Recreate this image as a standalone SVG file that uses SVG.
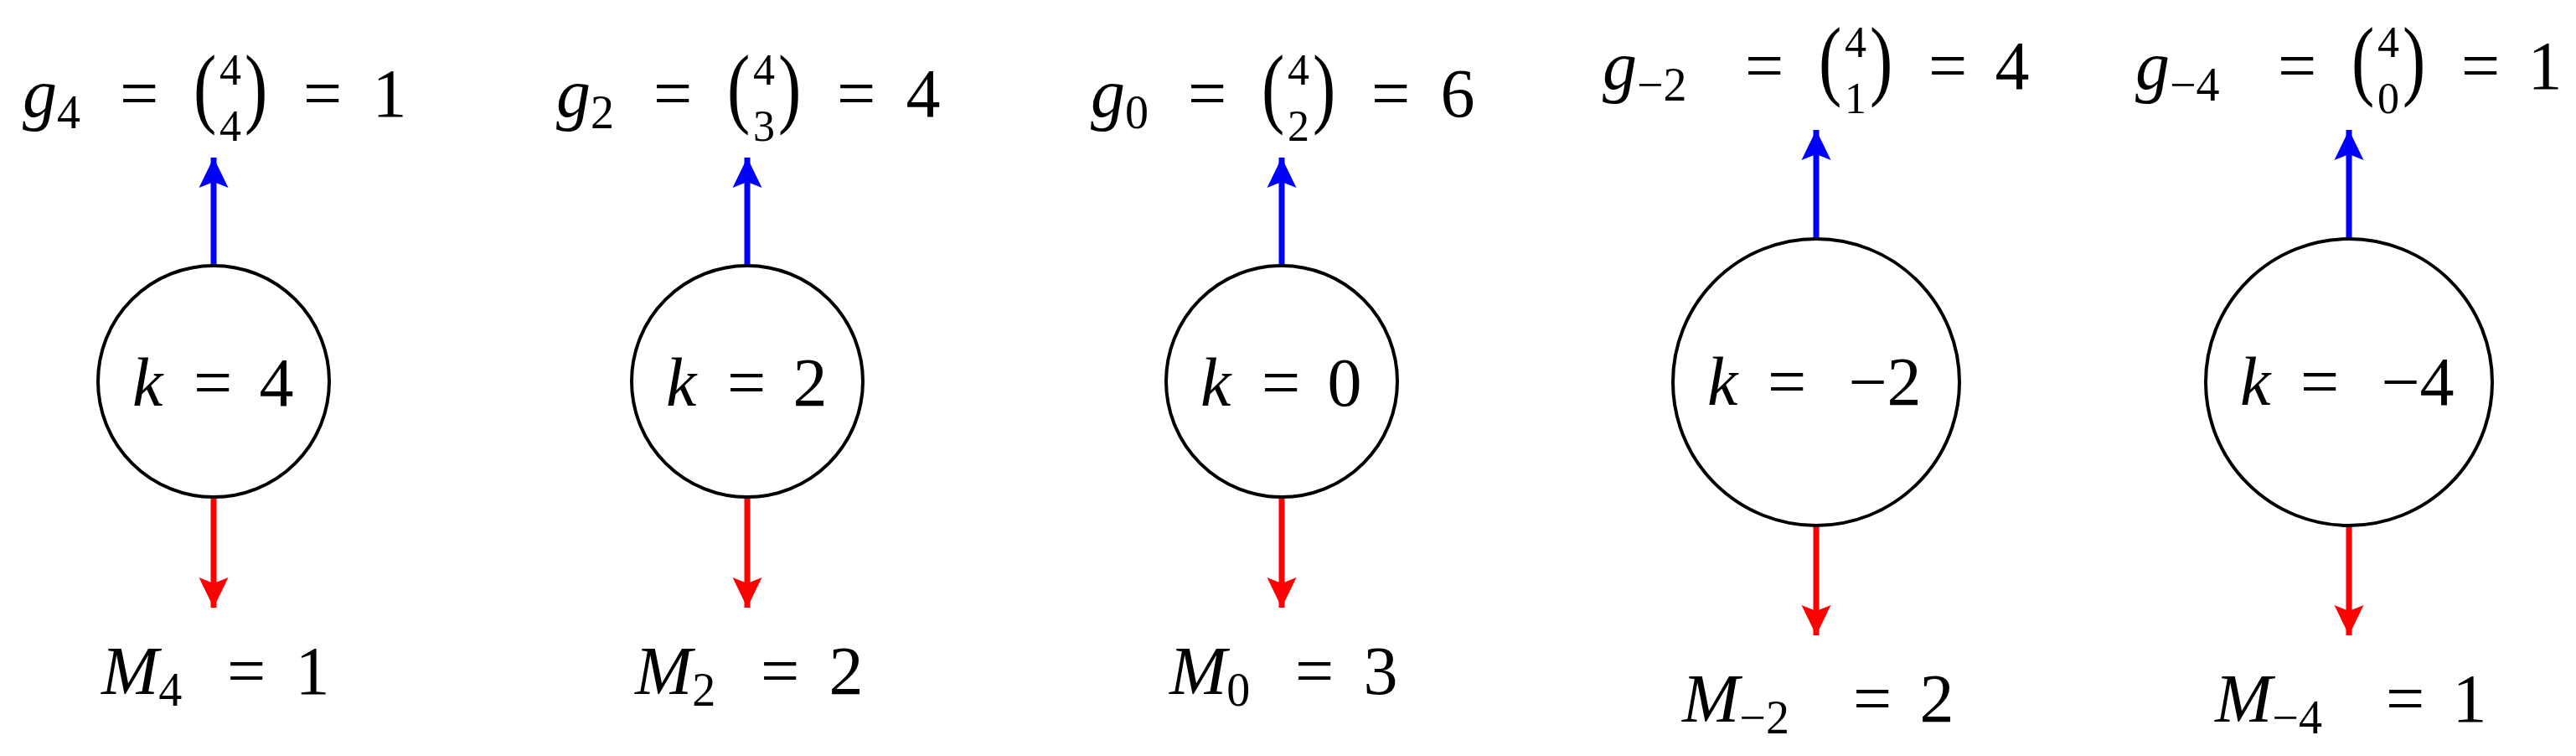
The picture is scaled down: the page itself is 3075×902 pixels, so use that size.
<svg xmlns="http://www.w3.org/2000/svg" width="3075" height="902" viewBox="0 0 3075 902">
<style>
text{font-family:"Liberation Serif","DejaVu Serif",serif;fill:#000;font-size:82px}
.i{font-style:italic}
.s{font-size:56px}
.d{font-size:52px}
.m{text-anchor:middle}
circle{fill:#fff;stroke:#000;stroke-width:4}
.b{stroke:#0000ff;stroke-width:7;fill:none}
.r{stroke:#ff0000;stroke-width:7;fill:none}
</style>
<defs>
<marker id="ab" markerUnits="userSpaceOnUse" markerWidth="40" markerHeight="40" viewBox="0 -20 40 40" refX="36" refY="0" orient="auto"><path d="M0,-17.5 L36,0 L0,17.5 L7,0 z" fill="#0000ff"/></marker>
<marker id="ar" markerUnits="userSpaceOnUse" markerWidth="40" markerHeight="40" viewBox="0 -20 40 40" refX="36" refY="0" orient="auto"><path d="M0,-17.5 L36,0 L0,17.5 L7,0 z" fill="#ff0000"/></marker>
</defs>
<g id="connectors">
<line class="b" x1="255" y1="317" x2="255" y2="188" marker-end="url(#ab)"/>
<line class="r" x1="255" y1="593" x2="255" y2="725" marker-end="url(#ar)"/>
<line class="b" x1="892" y1="317" x2="892" y2="188" marker-end="url(#ab)"/>
<line class="r" x1="892" y1="593" x2="892" y2="725" marker-end="url(#ar)"/>
<line class="b" x1="1530" y1="317" x2="1530" y2="188" marker-end="url(#ab)"/>
<line class="r" x1="1530" y1="593" x2="1530" y2="725" marker-end="url(#ar)"/>
<line class="b" x1="2168" y1="286" x2="2168" y2="155" marker-end="url(#ab)"/>
<line class="r" x1="2168" y1="627" x2="2168" y2="758" marker-end="url(#ar)"/>
<line class="b" x1="2804" y1="286" x2="2804" y2="155" marker-end="url(#ab)"/>
<line class="r" x1="2804" y1="627" x2="2804" y2="758" marker-end="url(#ar)"/>
</g>
<g id="n4" transform="translate(255,0)">
<circle cx="0" cy="455" r="138"/>
<text class="i" x="-97" y="484">k</text><text class="m" x="-1" y="484">=</text><text class="m" x="75" y="484">4</text>
<text x="-228" y="139"><tspan class="i">g</tspan><tspan class="s" dy="14">4</tspan></text>
<text class="m" x="-89" y="139">=</text>
<text x="-24" y="139" transform="translate(-24,139) scale(1,1.3) translate(24,-139)">(</text>
<text class="m d" x="20" y="101">4</text><text class="m d" x="20" y="168">4</text>
<text x="37" y="139" transform="translate(37,139) scale(1,1.3) translate(-37,-139)">)</text>
<text class="m" x="130" y="139">=</text>
<text class="m" x="210" y="139">1</text>
<text x="-134" y="828"><tspan class="i">M</tspan><tspan class="s" dy="14">4</tspan></text>
<text class="m" x="39" y="828">=</text>
<text class="m" x="118" y="828">1</text>
</g>
<g id="n2" transform="translate(892,0)">
<circle cx="0" cy="455" r="138"/>
<text class="i" x="-97" y="484">k</text><text class="m" x="-1" y="484">=</text><text class="m" x="75" y="484">2</text>
<text x="-228" y="139"><tspan class="i">g</tspan><tspan class="s" dy="14">2</tspan></text>
<text class="m" x="-89" y="139">=</text>
<text x="-24" y="139" transform="translate(-24,139) scale(1,1.3) translate(24,-139)">(</text>
<text class="m d" x="20" y="101">4</text><text class="m d" x="20" y="168">3</text>
<text x="37" y="139" transform="translate(37,139) scale(1,1.3) translate(-37,-139)">)</text>
<text class="m" x="130" y="139">=</text>
<text class="m" x="210" y="139">4</text>
<text x="-134" y="828"><tspan class="i">M</tspan><tspan class="s" dy="14">2</tspan></text>
<text class="m" x="39" y="828">=</text>
<text class="m" x="118" y="828">2</text>
</g>
<g id="n0" transform="translate(1530,0)">
<circle cx="0" cy="455" r="138"/>
<text class="i" x="-97" y="484">k</text><text class="m" x="-1" y="484">=</text><text class="m" x="75" y="484">0</text>
<text x="-228" y="139"><tspan class="i">g</tspan><tspan class="s" dy="14">0</tspan></text>
<text class="m" x="-89" y="139">=</text>
<text x="-24" y="139" transform="translate(-24,139) scale(1,1.3) translate(24,-139)">(</text>
<text class="m d" x="20" y="101">4</text><text class="m d" x="20" y="168">2</text>
<text x="37" y="139" transform="translate(37,139) scale(1,1.3) translate(-37,-139)">)</text>
<text class="m" x="130" y="139">=</text>
<text class="m" x="210" y="139">6</text>
<text x="-134" y="828"><tspan class="i">M</tspan><tspan class="s" dy="14">0</tspan></text>
<text class="m" x="39" y="828">=</text>
<text class="m" x="118" y="828">3</text>
</g>
<g id="nm2" transform="translate(2168,0)">
<circle cx="0" cy="456" r="171"/>
<text class="i" x="-130" y="483">k</text><text class="m" x="-35" y="483">=</text><text class="m" x="82" y="483">−2</text>
<text x="-255" y="106"><tspan class="i">g</tspan><tspan class="s" dy="14">−2</tspan></text>
<text class="m" x="-62" y="106">=</text>
<text x="3" y="106" transform="translate(3,106) scale(1,1.3) translate(-3,-106)">(</text>
<text class="m d" x="47" y="68">4</text><text class="m d" x="47" y="135">1</text>
<text x="64" y="106" transform="translate(64,106) scale(1,1.3) translate(-64,-106)">)</text>
<text class="m" x="157" y="106">=</text>
<text class="m" x="234" y="106">4</text>
<text x="-160" y="861"><tspan class="i">M</tspan><tspan class="s" dy="14">−2</tspan></text>
<text class="m" x="67" y="861">=</text>
<text class="m" x="144" y="861">2</text>
</g>
<g id="nm4" transform="translate(2804,0)">
<circle cx="0" cy="456" r="171"/>
<text class="i" x="-130" y="483">k</text><text class="m" x="-35" y="483">=</text><text class="m" x="82" y="483">−4</text>
<text x="-255" y="106"><tspan class="i">g</tspan><tspan class="s" dy="14">−4</tspan></text>
<text class="m" x="-62" y="106">=</text>
<text x="3" y="106" transform="translate(3,106) scale(1,1.3) translate(-3,-106)">(</text>
<text class="m d" x="47" y="68">4</text><text class="m d" x="47" y="135">0</text>
<text x="64" y="106" transform="translate(64,106) scale(1,1.3) translate(-64,-106)">)</text>
<text class="m" x="157" y="106">=</text>
<text class="m" x="234" y="106">1</text>
<text x="-160" y="861"><tspan class="i">M</tspan><tspan class="s" dy="14">−4</tspan></text>
<text class="m" x="67" y="861">=</text>
<text class="m" x="144" y="861">1</text>
</g>
</svg>
